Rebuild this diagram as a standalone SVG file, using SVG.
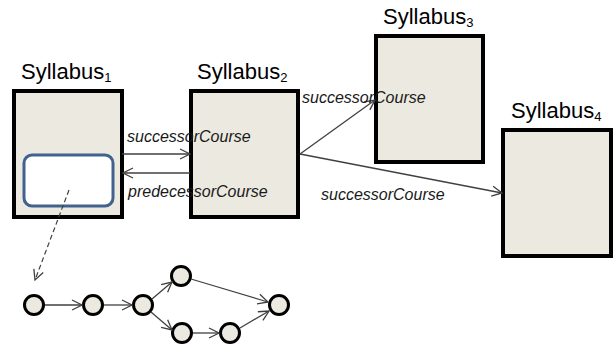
<svg xmlns="http://www.w3.org/2000/svg" width="613" height="350" viewBox="0 0 613 350">
<style>
.box{fill:#ece9e0;stroke:#000;stroke-width:4}
.title{font-family:"Liberation Sans",Arial,sans-serif;font-size:22px;fill:#000}
.sub{font-size:13px}
.lbl{font-family:"Liberation Sans",Arial,sans-serif;font-size:16px;font-style:italic;fill:#1a1a1a}
.edge{fill:none;stroke:#404040;stroke-width:1.3}
.dash{fill:none;stroke:#404040;stroke-width:1.2;stroke-dasharray:5 3}
.node{fill:#ece9e0;stroke:#000;stroke-width:3}
</style>
<defs>
<marker id="arr" viewBox="0 0 12 12" refX="11" refY="6" markerWidth="12" markerHeight="12" markerUnits="userSpaceOnUse" orient="auto">
<path d="M1,1 L11,6 L1,11" fill="none" stroke="#404040" stroke-width="1.3"/>
</marker>
</defs>
<g id="syllabus1">
<rect class="box" x="14" y="91" width="108" height="126"/>
<rect x="24" y="155" width="89" height="51" rx="8" fill="#fff" stroke="#41628f" stroke-width="3"/>
<text class="title" x="21" y="79">Syllabus<tspan class="sub" dy="3">1</tspan></text>
</g>
<g id="syllabus2">
<rect class="box" x="191" y="91" width="107" height="126"/>
<text class="title" x="197" y="79">Syllabus<tspan class="sub" dy="3">2</tspan></text>
</g>
<g id="syllabus3">
<rect class="box" x="376" y="36" width="107" height="126"/>
<text class="title" x="383" y="24">Syllabus<tspan class="sub" dy="3">3</tspan></text>
</g>
<g id="syllabus4">
<rect class="box" x="503" y="130" width="108" height="126"/>
<text class="title" x="511" y="118">Syllabus<tspan class="sub" dy="3">4</tspan></text>
</g>
<g id="graph-nodes">
<circle id="n1" class="node" cx="34" cy="305" r="9.5"/>
<circle id="n2" class="node" cx="93" cy="305" r="9.5"/>
<circle id="n3" class="node" cx="143" cy="305" r="9.5"/>
<circle id="n4" class="node" cx="181" cy="276" r="9.5"/>
<circle id="n5" class="node" cx="279" cy="305" r="9.5"/>
<circle id="n6" class="node" cx="182" cy="333" r="9.5"/>
<circle id="n7" class="node" cx="230" cy="333" r="9.5"/>
</g>
<g id="connectors">
<line class="edge" x1="122" y1="154" x2="190" y2="154" marker-end="url(#arr)"/>
<line class="edge" x1="190" y1="173" x2="123" y2="173" marker-end="url(#arr)"/>
<line class="edge" x1="300" y1="154" x2="375" y2="100" marker-end="url(#arr)"/>
<line class="edge" x1="300" y1="154" x2="502" y2="193" marker-end="url(#arr)"/>
<line class="dash" x1="69" y1="190" x2="35" y2="280" marker-end="url(#arr)"/>
<line class="edge" x1="45" y1="305" x2="82" y2="305" marker-end="url(#arr)"/>
<line class="edge" x1="104" y1="305" x2="132" y2="305" marker-end="url(#arr)"/>
<line class="edge" x1="152" y1="299" x2="172" y2="282" marker-end="url(#arr)"/>
<line class="edge" x1="151" y1="312" x2="172" y2="330" marker-end="url(#arr)"/>
<line class="edge" x1="191" y1="279" x2="268" y2="302" marker-end="url(#arr)"/>
<line class="edge" x1="193" y1="333" x2="219" y2="333" marker-end="url(#arr)"/>
<line class="edge" x1="240" y1="328" x2="269" y2="311" marker-end="url(#arr)"/>
<text class="lbl" x="127" y="142">successorCourse</text>
<text class="lbl" x="128" y="197">predecessorCourse</text>
<text class="lbl" x="302" y="103">successorCourse</text>
<text class="lbl" x="321" y="200">successorCourse</text>
</g>
</svg>
